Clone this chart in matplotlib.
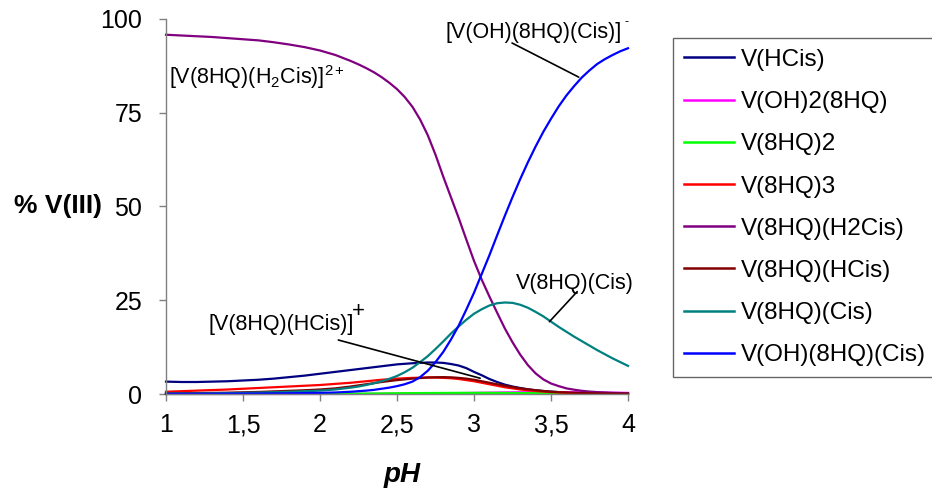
import matplotlib
matplotlib.use("Agg")
import matplotlib.pyplot as plt

plt.rcParams['font.family'] = ['Liberation Sans', 'DejaVu Sans']
plt.rcParams['mathtext.fontset'] = 'custom'
plt.rcParams['mathtext.rm'] = 'Liberation Sans'
plt.rcParams['mathtext.it'] = 'Liberation Sans:italic'
plt.rcParams['mathtext.bf'] = 'Liberation Sans:bold'

# pH grid
ph = [1.00, 1.05, 1.10, 1.15, 1.20, 1.25, 1.30, 1.35, 1.40, 1.45,
      1.50, 1.55, 1.60, 1.65, 1.70, 1.75, 1.80, 1.85, 1.90, 1.95,
      2.00, 2.05, 2.10, 2.15, 2.20, 2.25, 2.30, 2.35, 2.40, 2.45,
      2.50, 2.55, 2.60, 2.65, 2.70, 2.75, 2.80, 2.85, 2.90, 2.95,
      3.00, 3.05, 3.10, 3.15, 3.20, 3.25, 3.30, 3.35, 3.40, 3.45,
      3.50, 3.55, 3.60, 3.65, 3.70, 3.75, 3.80, 3.85, 3.90, 3.95,
      4.00]

# species distribution (% V(III))
v_hcis = [3.3, 3.25, 3.2, 3.2, 3.2, 3.25, 3.3, 3.35, 3.4, 3.5,
          3.6, 3.7, 3.8, 3.95, 4.1, 4.3, 4.5, 4.7, 4.9, 5.15,
          5.4, 5.65, 5.9, 6.15, 6.4, 6.65, 6.9, 7.15, 7.4, 7.65,
          7.9, 8.05, 8.2, 8.3, 8.4, 8.4, 8.3, 8.0, 7.6, 6.9,
          5.9, 5.0, 4.0, 3.2, 2.5, 2.0, 1.6, 1.25, 1.0, 0.8,
          0.65, 0.5, 0.4, 0.32, 0.25, 0.2, 0.15, 0.12, 0.1, 0.07,
          0.05]
v_oh2_8hq = [0.0, 0.0, 0.0, 0.0, 0.0, 0.0, 0.0, 0.0, 0.0, 0.0,
             0.0, 0.0, 0.0, 0.0, 0.0, 0.0, 0.0, 0.0, 0.01, 0.01,
             0.01, 0.015, 0.02, 0.02, 0.02, 0.025, 0.03, 0.035, 0.04, 0.045,
             0.05, 0.065, 0.08, 0.1, 0.12, 0.15, 0.18, 0.21, 0.24, 0.27,
             0.3, 0.33, 0.36, 0.39, 0.42, 0.44, 0.46, 0.48, 0.49, 0.5,
             0.5, 0.49, 0.48, 0.46, 0.44, 0.42, 0.4, 0.38, 0.35, 0.33,
             0.3]
v_8hq2 = [0.0, 0.0, 0.0, 0.0, 0.0, 0.01, 0.01, 0.01, 0.01, 0.015,
          0.02, 0.02, 0.02, 0.025, 0.03, 0.03, 0.03, 0.035, 0.04, 0.045,
          0.05, 0.06, 0.07, 0.08, 0.09, 0.1, 0.12, 0.14, 0.16, 0.18,
          0.2, 0.22, 0.23, 0.25, 0.26, 0.27, 0.28, 0.29, 0.3, 0.3,
          0.3, 0.3, 0.29, 0.28, 0.27, 0.26, 0.25, 0.24, 0.22, 0.21,
          0.2, 0.19, 0.18, 0.17, 0.15, 0.14, 0.13, 0.12, 0.11, 0.1,
          0.1]
v_8hq3 = [0.6, 0.68, 0.75, 0.82, 0.9, 0.98, 1.05, 1.12, 1.2, 1.3,
          1.4, 1.5, 1.6, 1.7, 1.8, 1.9, 2.0, 2.1, 2.2, 2.3,
          2.4, 2.55, 2.7, 2.85, 3.0, 3.2, 3.4, 3.6, 3.8, 3.95,
          4.1, 4.2, 4.3, 4.35, 4.4, 4.4, 4.3, 4.2, 4.0, 3.7,
          3.4, 3.0, 2.6, 2.2, 1.8, 1.5, 1.2, 1.0, 0.8, 0.65,
          0.5, 0.4, 0.3, 0.25, 0.2, 0.15, 0.1, 0.09, 0.07, 0.06,
          0.05]
v_8hq_h2cis = [95.8, 95.7, 95.6, 95.5, 95.4, 95.3, 95.2, 95.05, 94.9, 94.75,
               94.6, 94.45, 94.3, 94.05, 93.8, 93.5, 93.2, 92.85, 92.5, 92.05,
               91.6, 91.0, 90.4, 89.6, 88.8, 87.9, 86.9, 85.8, 84.5, 83.0,
               81.3, 79.2, 76.6, 73.2, 69.0, 63.8, 58.0, 52.5, 47.0, 41.2,
               35.5, 30.5, 26.0, 21.7, 17.5, 13.8, 10.5, 7.7, 5.5, 3.9,
               2.8, 2.1, 1.5, 1.15, 0.85, 0.65, 0.5, 0.4, 0.3, 0.25,
               0.2]
v_8hq_hcis = [0.15, 0.17, 0.2, 0.22, 0.25, 0.27, 0.3, 0.32, 0.35, 0.4,
              0.45, 0.5, 0.55, 0.62, 0.7, 0.77, 0.85, 0.92, 1.0, 1.1,
              1.2, 1.35, 1.5, 1.75, 2.0, 2.3, 2.6, 2.9, 3.2, 3.45,
              3.7, 3.9, 4.1, 4.25, 4.4, 4.45, 4.5, 4.45, 4.3, 4.1,
              3.8, 3.4, 3.0, 2.6, 2.2, 1.85, 1.5, 1.25, 1.0, 0.8,
              0.6, 0.5, 0.4, 0.32, 0.25, 0.2, 0.15, 0.12, 0.1, 0.07,
              0.05]
v_8hq_cis = [0.1, 0.11, 0.12, 0.13, 0.15, 0.17, 0.19, 0.21, 0.24, 0.27,
             0.3, 0.34, 0.38, 0.43, 0.48, 0.54, 0.6, 0.67, 0.75, 0.82,
             0.9, 1.05, 1.2, 1.45, 1.7, 2.0, 2.4, 2.85, 3.4, 4.05,
             4.8, 5.8, 7.0, 8.5, 10.1, 12.0, 14.0, 16.1, 18.0, 19.8,
             21.4, 22.6, 23.6, 24.2, 24.4, 24.3, 23.8, 23.0, 21.9, 20.7,
             19.3, 17.9, 16.6, 15.3, 14.1, 12.9, 11.7, 10.6, 9.5, 8.5,
             7.5]
v_oh_8hq_cis = [0.05, 0.05, 0.05, 0.06, 0.06, 0.07, 0.07, 0.08, 0.09, 0.1,
                0.1, 0.11, 0.12, 0.14, 0.15, 0.17, 0.2, 0.22, 0.25, 0.28,
                0.3, 0.35, 0.4, 0.5, 0.6, 0.75, 0.9, 1.1, 1.4, 1.7,
                2.1, 2.6, 3.3, 4.5, 6.2, 8.5, 11.2, 14.5, 18.2, 22.5,
                27.0, 32.0, 37.0, 42.3, 47.5, 52.5, 57.3, 61.8, 66.0, 69.9,
                73.4, 76.7, 79.6, 82.1, 84.4, 86.3, 88.0, 89.3, 90.4, 91.4,
                92.2]

series_labels = ['V(HCis)', 'V(OH)2(8HQ)', 'V(8HQ)2', 'V(8HQ)3',
                 'V(8HQ)(H2Cis)', 'V(8HQ)(HCis)', 'V(8HQ)(Cis)',
                 'V(OH)(8HQ)(Cis)']
series_values = [v_hcis, v_oh2_8hq, v_8hq2, v_8hq3,
                 v_8hq_h2cis, v_8hq_hcis, v_8hq_cis, v_oh_8hq_cis]
series_colors = ['#000080', '#FF00FF', '#00FF00', '#FF0000',
                 '#800080', '#800000', '#008080', '#0000FF']

x_ticks = [1, 1.5, 2, 2.5, 3, 3.5, 4]
x_ticklabels = ['1', '1,5', '2', '2,5', '3', '3,5', '4']
y_ticks = [0, 25, 50, 75, 100]

fig = plt.figure(figsize=(9.32, 4.9), dpi=100)
ax = fig.add_axes([166 / 932, 1 - 394 / 490, 462 / 932, 375 / 490])

for vals, lab, col in zip(series_values, series_labels, series_colors):
    ax.plot(ph[:len(vals)], vals, color=col, lw=1.6, label=lab,
            clip_on=False, solid_joinstyle='round')

ax.set_xlim(1, 4)
ax.set_ylim(0, 100)
ax.set_xticks(x_ticks)
ax.set_xticklabels(x_ticklabels)
ax.set_yticks(y_ticks)
for side in ('top', 'right'):
    ax.spines[side].set_visible(False)
for side in ('left', 'bottom'):
    ax.spines[side].set_color('#808080')
    ax.spines[side].set_linewidth(1.0)
ax.tick_params(axis='both', direction='out', length=5, width=1,
               color='#808080', labelsize=18, labelcolor='black')
ax.tick_params(axis='x', pad=9)
ax.tick_params(axis='y', pad=12)

ax.set_ylabel('% V(III)', fontsize=19, fontweight='bold', rotation=0,
              ha='right', va='center')
ax.yaxis.set_label_coords(-0.138, 0.5)
ax.set_xlabel('pH', fontsize=20, fontweight='bold', style='italic',
              va='center')
ax.xaxis.set_label_coords(0.51, -0.216)

# species annotations with leader lines
ann_fs = 15.5
leader = dict(arrowstyle='-', color='black', lw=1.2, shrinkA=0, shrinkB=0)

ax.annotate('', xy=(3.68, 84.5), xytext=(3.247, 93.6), arrowprops=leader)
ax.text(2.815, 96.5, '[V(OH)(8HQ)(Cis)]', fontsize=ann_fs,
        ha='left', va='center')
ax.text(3.975, 99.3, '-', fontsize=9, ha='left', va='center')

ax.text(1.02, 84.5, r'[V(8HQ)(H$_2$Cis)]$^{2+}$', fontsize=ann_fs,
        ha='left', va='center')

ax.annotate('', xy=(3.49, 19.3), xytext=(3.67, 27.3), arrowprops=leader)
ax.text(3.655, 29.5, 'V(8HQ)(Cis)', fontsize=ann_fs,
        ha='center', va='center')

ax.annotate('', xy=(3.04, 4.2), xytext=(2.119, 14.4), arrowprops=leader)
ax.text(1.273, 18.5, '[V(8HQ)(HCis)]', fontsize=ann_fs,
        ha='left', va='center')
ax.text(2.25, 22.0, '+', fontsize=16, ha='center', va='center')

leg = ax.legend(loc='upper left', bbox_to_anchor=(673 / 932, 1 - 38 / 490),
                bbox_transform=fig.transFigure, fontsize=17.5,
                frameon=True, fancybox=False, borderaxespad=0,
                handlelength=2.06, handletextpad=0.28, labelspacing=0.83,
                borderpad=0.45)
leg.get_frame().set_edgecolor('#404040')
leg.get_frame().set_linewidth(1.0)
for line in leg.get_lines():
    line.set_linewidth(1.8)

fig.savefig('out.png', dpi=100)
